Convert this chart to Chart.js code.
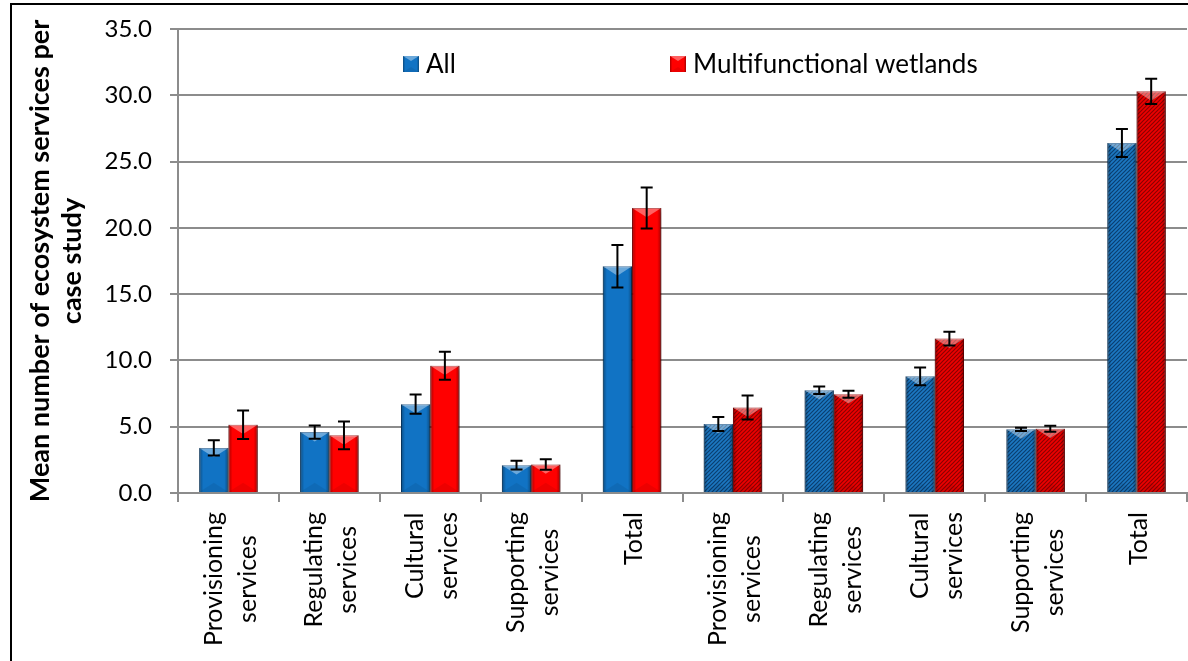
<!DOCTYPE html>
<html lang="en">
<head>
<meta charset="UTF-8">
<title>Ecosystem services per case study</title>
<script src="https://cdn.jsdelivr.net/npm/chart.js"></script>
<style>
  html, body { margin: 0; padding: 0; background: #fff; overflow: hidden; }
</style>
</head>
<body>
<canvas id="es-chart" width="1188" height="661"></canvas>
<script>
// categories (two groups of five, the second group is drawn hatched)
var categories = [
  ['Provisioning', 'services'], ['Regulating', 'services'], ['Cultural', 'services'], ['Supporting', 'services'], ['Total'],
  ['Provisioning', 'services'], ['Regulating', 'services'], ['Cultural', 'services'], ['Supporting', 'services'], ['Total']
];
var seriesNames = ['All', 'Multifunctional wetlands'];
var allValues = [3.4, 4.6, 6.7, 2.1, 17.1, 5.2, 7.75, 8.8, 4.8, 26.4];
var allErrors = [0.57, 0.5, 0.73, 0.33, 1.6, 0.53, 0.28, 0.67, 0.13, 1.05];
var mwValues  = [5.15, 4.35, 9.6, 2.15, 21.5, 6.45, 7.45, 11.65, 4.85, 30.3];
var mwErrors  = [1.08, 1.05, 1.05, 0.4, 1.55, 0.9, 0.27, 0.52, 0.23, 0.95];
var yMin = 0, yMax = 35, yStep = 5;
var hatchedFrom = 5;

var FONT = 'Lato, "Open Sans", sans-serif';
var GRID = '#8c8c8c';

function makeStripes(base, stripe) {
  var c = document.createElement('canvas');
  c.width = 4; c.height = 4;
  var g = c.getContext('2d');
  g.fillStyle = base;
  g.fillRect(0, 0, 4, 4);
  g.strokeStyle = stripe;
  g.lineWidth = 1.2;
  g.beginPath();
  g.moveTo(0, 4); g.lineTo(4, 0);
  g.moveTo(-1, 1); g.lineTo(1, -1);
  g.moveTo(3, 5); g.lineTo(5, 3);
  g.stroke();
  return g.createPattern(c, 'repeat');
}

var blue = '#1173c4', blueDark = '#0b4f8c';
var red = '#ff0000', redDark = '#b00000';
var blueHatch = makeStripes('#1c78c2', '#0b3f70');
var redHatch = makeStripes('#ee0000', '#8a0000');

// bevel look: darker sides, light top triangle
function bevel(ctx, l, t, w, h) {
  var r = l + w, b = t + h;
  var g = ctx.createLinearGradient(l, 0, r, 0);
  g.addColorStop(0, 'rgba(0,0,0,0.35)');
  g.addColorStop(0.14, 'rgba(0,0,0,0)');
  g.addColorStop(0.86, 'rgba(0,0,0,0)');
  g.addColorStop(1, 'rgba(0,0,0,0.35)');
  ctx.fillStyle = g;
  ctx.fillRect(l, t, w, h);
  var d = Math.min(w * 0.32, h / 2);
  ctx.fillStyle = 'rgba(255,255,255,0.38)';
  ctx.beginPath();
  ctx.moveTo(l, t); ctx.lineTo(r, t); ctx.lineTo(l + w / 2, t + d); ctx.closePath();
  ctx.fill();
  ctx.fillStyle = 'rgba(0,0,0,0.07)';
  ctx.beginPath();
  ctx.moveTo(l, b); ctx.lineTo(r, b); ctx.lineTo(l + w / 2, b - d); ctx.closePath();
  ctx.fill();
}

var errorSets = [allErrors, mwErrors];

var barDecor = {
  id: 'barDecor',
  beforeDatasetsDraw: function (chart) {
    var ctx = chart.ctx;
    ctx.save();
    ctx.shadowColor = 'rgba(0,0,0,0.35)';
    ctx.shadowBlur = 6;
    ctx.shadowOffsetX = 3;
    ctx.shadowOffsetY = 2;
  },
  afterDatasetsDraw: function (chart) {
    var ctx = chart.ctx;
    ctx.restore();
    var y = chart.scales.y;
    chart.data.datasets.forEach(function (ds, d) {
      var meta = chart.getDatasetMeta(d);
      meta.data.forEach(function (bar) {
        bevel(ctx, bar.x - bar.width / 2, bar.y, bar.width, bar.base - bar.y);
      });
    });
    ctx.save();
    ctx.strokeStyle = '#000';
    ctx.lineWidth = 2;
    chart.data.datasets.forEach(function (ds, d) {
      var meta = chart.getDatasetMeta(d);
      meta.data.forEach(function (bar, i) {
        var v = ds.data[i], e = errorSets[d][i];
        var hi = y.getPixelForValue(v + e), lo = y.getPixelForValue(v - e);
        ctx.beginPath();
        ctx.moveTo(bar.x, hi); ctx.lineTo(bar.x, lo);
        ctx.moveTo(bar.x - 6, hi); ctx.lineTo(bar.x + 6, hi);
        ctx.moveTo(bar.x - 6, lo); ctx.lineTo(bar.x + 6, lo);
        ctx.stroke();
      });
    });
    ctx.restore();
  },
  afterDraw: function (chart) {
    var ctx = chart.ctx;
    var x = chart.scales.x;
    ctx.save();
    // x labels, rotated, lines centred on each other
    ctx.font = '25px ' + FONT;
    ctx.fillStyle = '#000';
    ctx.textAlign = 'center';
    ctx.textBaseline = 'middle';
    var lh = 34;
    categories.forEach(function (lines, i) {
      var px = x.getPixelForTick(i);
      var w = Math.max.apply(null, lines.map(function (s) { return ctx.measureText(s).width; }));
      ctx.save();
      ctx.translate(px + 2, 512 + w / 2);
      ctx.rotate(-Math.PI / 2);
      lines.forEach(function (s, k) {
        ctx.fillText(s, 0, (k - (lines.length - 1) / 2) * lh);
      });
      ctx.restore();
    });
    // legend inside the plot
    var items = [
      { x: 403, color: blue, text: seriesNames[0] },
      { x: 670, color: red, text: seriesNames[1] }
    ];
    ctx.textAlign = 'left';
    ctx.font = '26px ' + FONT;
    items.forEach(function (it) {
      ctx.fillStyle = it.color;
      ctx.fillRect(it.x, 56, 16, 16);
      bevel(ctx, it.x, 56, 16, 16);
      ctx.fillStyle = '#000';
      ctx.fillText(it.text, it.x + 23, 65);
    });
    // outer frame
    ctx.strokeStyle = '#000';
    ctx.lineWidth = 2;
    ctx.strokeRect(11, 4, 2000, 2000);
    ctx.restore();
  }
};

var ctx = document.getElementById('es-chart').getContext('2d');
var chart = new Chart(ctx, {
  type: 'bar',
  data: {
    labels: categories,
    datasets: [{
      label: seriesNames[0],
      data: allValues,
      backgroundColor: function (c) { return c.dataIndex >= hatchedFrom ? blueHatch : blue; },
      borderColor: blueDark,
      borderWidth: 1
    }, {
      label: seriesNames[1],
      data: mwValues,
      backgroundColor: function (c) { return c.dataIndex >= hatchedFrom ? redHatch : red; },
      borderColor: redDark,
      borderWidth: 1
    }]
  },
  options: {
    responsive: false,
    animation: false,
    devicePixelRatio: 1,
    categoryPercentage: 0.58,
    barPercentage: 1,
    layout: { padding: { top: 29, right: 1, left: 0, bottom: 0 } },
    plugins: {
      legend: { display: false },
      tooltip: { enabled: false }
    },
    scales: {
      x: {
        ticks: { display: false },
        grid: { drawOnChartArea: false, drawTicks: true, tickLength: 9, color: GRID, lineWidth: 2 },
        border: { display: true, color: GRID, width: 2 },
        afterFit: function (s) { s.height = 168; }
      },
      y: {
        min: yMin,
        max: yMax,
        ticks: {
          stepSize: yStep,
          padding: 18,
          color: '#000',
          font: { family: FONT, size: 24 },
          callback: function (v) { return v.toFixed(1); }
        },
        grid: { color: GRID, lineWidth: 2, tickLength: 8 },
        border: { display: true, color: GRID, width: 2 },
        title: {
          display: true,
          text: ['Mean number of ecosystem services per', 'case study'],
          color: '#000',
          font: { family: FONT, size: 27, weight: 'bold', lineHeight: 1.2 },
          padding: { top: 24, bottom: 0 }
        },
        afterFit: function (s) {
          s.width = 178;
          s.paddingTop = 10;
          s.paddingBottom = 10;
        }
      }
    }
  },
  plugins: [barDecor]
});
</script>
</body>
</html>
